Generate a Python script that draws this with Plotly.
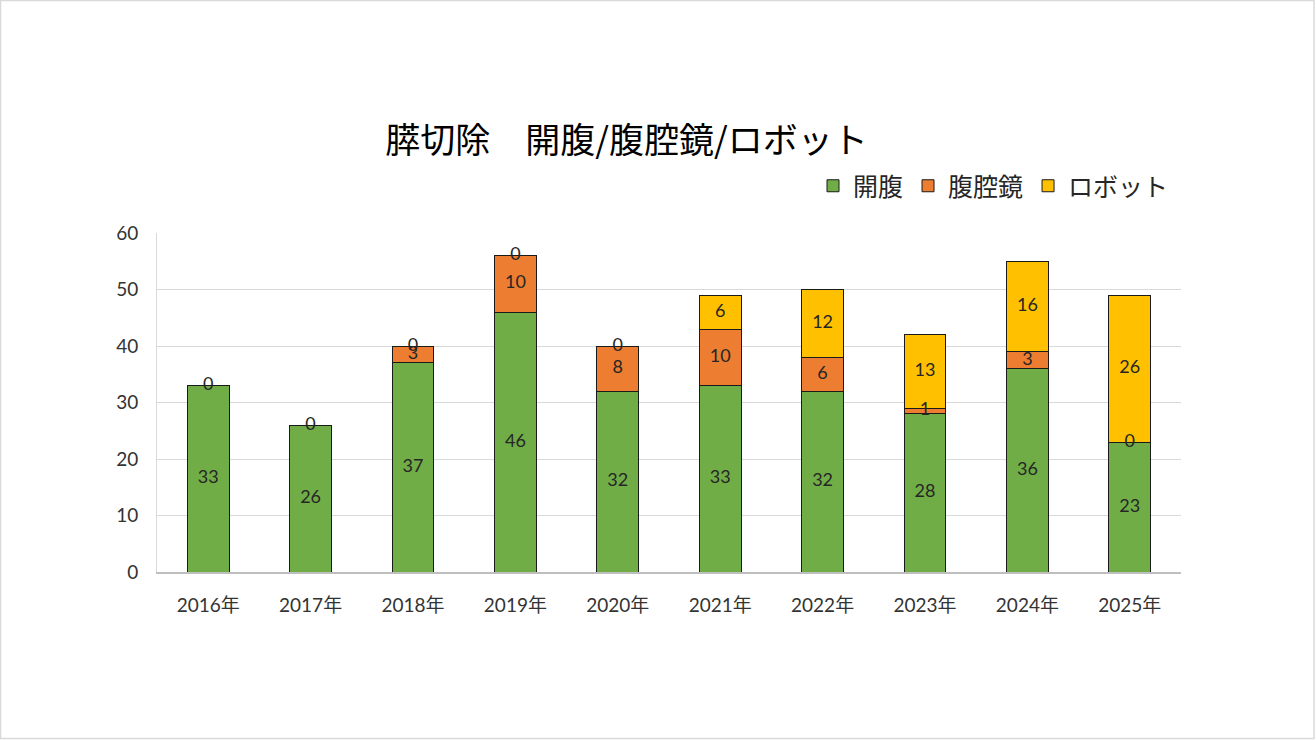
import plotly.graph_objects as go

years = ["2016年", "2017年", "2018年", "2019年", "2020年", "2021年", "2022年", "2023年", "2024年", "2025年"]
open_surgery = [33, 26, 37, 46, 32, 33, 32, 28, 36, 23]
laparoscopic = [0, 0, 3, 10, 8, 10, 6, 1, 3, 0]
robotic = [None, None, 0, 0, 0, 6, 12, 13, 16, 26]

names = ["開腹", "腹腔鏡", "ロボット"]
colors = ["#70AD47", "#ED7D31", "#FFC000"]
series = [open_surgery, laparoscopic, robotic]

FONT = "Lato, 'Noto Sans CJK JP', sans-serif"
CJK = "'Noto Sans CJK JP', sans-serif"

fig = go.Figure()
for name, col, vals in zip(names, colors, series):
    fig.add_trace(go.Bar(
        x=years, y=[v if v is not None else 0 for v in vals], name=name,
        marker=dict(color=col, line=dict(color="#1a1a1a", width=1)),
        hoverinfo="skip",
    ))

# data labels at the middle of each stacked segment
base = [0] * len(years)
for vals in series:
    lx, ly, lt = [], [], []
    for i, v in enumerate(vals):
        if v is None:
            continue
        lx.append(years[i])
        ly.append(base[i] + v / 2)
        lt.append(str(v))
        base[i] += v
    fig.add_trace(go.Scatter(
        x=lx, y=ly, text=lt, mode="text", showlegend=False, hoverinfo="skip",
        textfont=dict(family=FONT, size=18, color="#262626"),
        textposition="middle center",
    ))

L, R, T, B = 157, 135, 233, 168
W, H = 1316, 740
pw, ph = W - L - R, H - T - B

fig.update_layout(
    width=W, height=H,
    margin=dict(l=L, r=R, t=T, b=B),
    barmode="stack", bargap=0.59,
    paper_bgcolor="white", plot_bgcolor="white",
    font=dict(family=FONT, size=18, color="#333333"),
    title=dict(text="膵切除　開腹/腹腔鏡/ロボット", x=0.476, xanchor="center",
               y=1 - 141 / H, yanchor="middle",
               font=dict(family=CJK, size=35, color="#000000")),
    legend=dict(orientation="h", x=(1174 - L) / pw, xanchor="right",
                y=(H - B - 186) / ph, yanchor="middle",
                font=dict(family=CJK, size=25, color="#262626"),
                traceorder="normal", itemclick=False, itemdoubleclick=False),
    xaxis=dict(showgrid=False, showline=True, linecolor="#bfbfbf", linewidth=1.5,
               ticks="", ticklabelstandoff=15,
               tickfont=dict(family=FONT, size=19, color="#333333")),
    yaxis=dict(range=[0, 60], dtick=10, showgrid=True, gridcolor="#d9d9d9", gridwidth=1,
               showline=True, linecolor="#d9d9d9", linewidth=1, zeroline=False,
               ticks="", ticklabelstandoff=14,
               tickfont=dict(family=FONT, size=19, color="#333333")),
    shapes=[dict(type="rect", xref="paper", yref="paper",
                 x0=-(L - 0.5) / pw, x1=(1314 - L) / pw,
                 y0=-(B - 1.5) / ph, y1=(H - B - 0.5) / ph,
                 line=dict(color="#d9d9d9", width=1.5), fillcolor="rgba(0,0,0,0)", layer="below")],
)

fig.write_html("out.html")
